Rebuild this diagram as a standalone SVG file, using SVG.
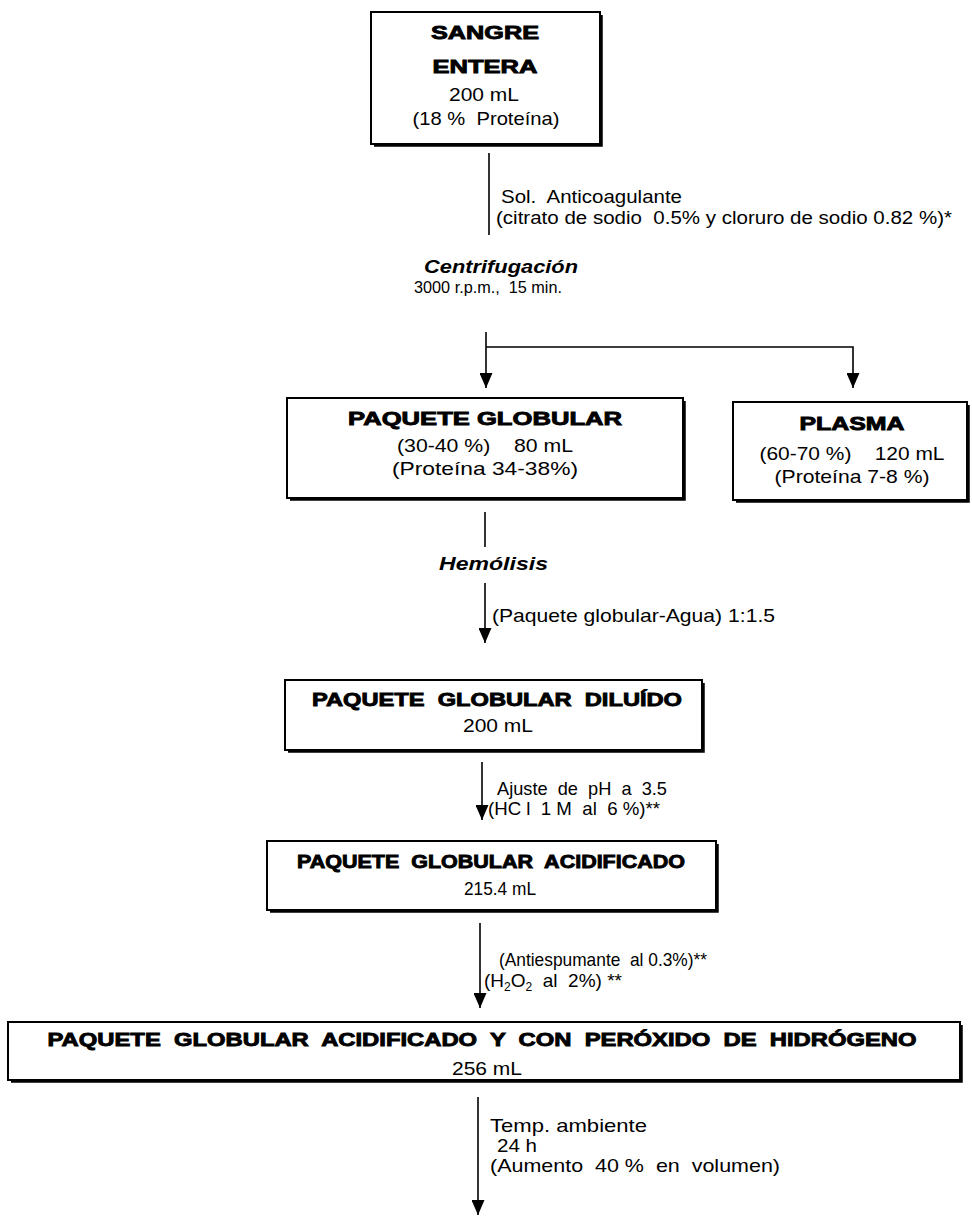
<svg xmlns="http://www.w3.org/2000/svg" width="972" height="1217" viewBox="0 0 972 1217">
<defs>
<style>
.bg{fill:#fff}
.box{fill:#fff;stroke:#000;stroke-width:2}
.sh{fill:none;stroke:#000;stroke-width:3.5}
.ln{fill:none;stroke:#000;stroke-width:1.6}
text{white-space:pre}
.t{font-family:"Liberation Sans",Arial,sans-serif;font-size:19px;fill:#000}
.m{font-family:"Liberation Sans",Arial,sans-serif;font-size:17.5px;fill:#000}
.s{font-family:"Liberation Sans",Arial,sans-serif;font-size:17px;fill:#000}
.c{text-anchor:middle}
.h{font-family:"Liberation Sans",Arial,sans-serif;font-weight:bold;font-size:19px;fill:#000;stroke:#000;stroke-width:0.9;text-anchor:middle}
.bi{font-family:"Liberation Sans",Arial,sans-serif;font-weight:bold;font-style:italic;font-size:19px;fill:#000}
</style>
<marker id="ah" markerUnits="userSpaceOnUse" markerWidth="15" markerHeight="13" viewBox="0 0 15 13" refX="15" refY="6.5" orient="auto">
<path d="M0,0 L15,6.5 L0,13 z" fill="#000"/>
</marker>
</defs>
<rect class="bg" x="0" y="0" width="972" height="1217"/>

<g id="connectors">
<line class="ln" x1="489" y1="153" x2="489" y2="235"/>
<line class="ln" x1="486" y1="332" x2="486" y2="388" marker-end="url(#ah)"/>
<polyline class="ln" points="486,347 853,347 853,388" marker-end="url(#ah)"/>
<line class="ln" x1="485" y1="512" x2="485" y2="547"/>
<line class="ln" x1="485" y1="583" x2="485" y2="643" marker-end="url(#ah)"/>
<line class="ln" x1="482" y1="762" x2="482" y2="820" marker-end="url(#ah)"/>
<line class="ln" x1="480" y1="923" x2="480" y2="1008" marker-end="url(#ah)"/>
<line class="ln" x1="478" y1="1097" x2="478" y2="1215" marker-end="url(#ah)"/>
<text class="m" x="501" y="203" textLength="181" lengthAdjust="spacingAndGlyphs">Sol.  Anticoagulante</text>
<text class="m" x="496" y="224" textLength="456" lengthAdjust="spacingAndGlyphs">(citrato de sodio  0.5% y cloruro de sodio 0.82 %)*</text>
<text class="bi" x="424" y="273" textLength="154" lengthAdjust="spacingAndGlyphs">Centrifugación</text>
<text class="s" x="414" y="293" textLength="148" lengthAdjust="spacingAndGlyphs">3000 r.p.m.,  15 min.</text>
<text class="bi" x="439" y="570" textLength="109" lengthAdjust="spacingAndGlyphs">Hemólisis</text>
<text class="t" x="492" y="622" textLength="283" lengthAdjust="spacingAndGlyphs">(Paquete globular-Agua) 1:1.5</text>
<text class="t" x="497" y="795" textLength="170" lengthAdjust="spacingAndGlyphs">Ajuste  de  pH  a  3.5</text>
<text class="t" x="488" y="815" textLength="172" lengthAdjust="spacingAndGlyphs">(HC l  1 M  al  6 %)**</text>
<text class="t" x="499" y="966" textLength="208" lengthAdjust="spacingAndGlyphs">(Antiespumante  al 0.3%)**</text>
<text class="t" x="484" y="987">(H<tspan font-size="12" dy="4">2</tspan><tspan dy="-4">O</tspan><tspan font-size="12" dy="4">2</tspan><tspan dy="-4">  al  2%) **</tspan></text>
<text class="t" x="490" y="1132" textLength="157" lengthAdjust="spacingAndGlyphs">Temp. ambiente</text>
<text class="t" x="497" y="1152" textLength="40" lengthAdjust="spacingAndGlyphs">24 h</text>
<text class="t" x="490" y="1172" textLength="290" lengthAdjust="spacingAndGlyphs">(Aumento  40 %  en  volumen)</text>
</g>

<g id="sangre">
<rect class="box" x="371" y="12" width="229" height="132"/>
<path class="sh" d="M374,145 H601 V15"/>
<text class="h" x="485" y="39" textLength="108" lengthAdjust="spacingAndGlyphs">SANGRE</text>
<text class="h" x="485" y="73" textLength="105" lengthAdjust="spacingAndGlyphs">ENTERA</text>
<text class="t c" x="484" y="101" textLength="70" lengthAdjust="spacingAndGlyphs">200 mL</text>
<text class="t c" x="486" y="125" textLength="147" lengthAdjust="spacingAndGlyphs">(18 %  Proteína)</text>
</g>

<g id="paquete-globular">
<rect class="box" x="287" y="398" width="396" height="100"/>
<path class="sh" d="M290,499 H684 V401"/>
<text class="h" x="485" y="425" textLength="274" lengthAdjust="spacingAndGlyphs">PAQUETE GLOBULAR</text>
<text class="t c" x="485" y="452" textLength="176" lengthAdjust="spacingAndGlyphs">(30-40 %)    80 mL</text>
<text class="t c" x="485" y="475" textLength="186" lengthAdjust="spacingAndGlyphs">(Proteína 34-38%)</text>
</g>

<g id="plasma">
<rect class="box" x="733" y="402" width="234" height="98"/>
<path class="sh" d="M736,501 H968 V405"/>
<text class="h" x="852" y="430" textLength="105" lengthAdjust="spacingAndGlyphs">PLASMA</text>
<text class="t c" x="852" y="460" textLength="185" lengthAdjust="spacingAndGlyphs">(60-70 %)    120 mL</text>
<text class="t c" x="852" y="483" textLength="155" lengthAdjust="spacingAndGlyphs">(Proteína 7-8 %)</text>
</g>

<g id="diluido">
<rect class="box" x="285" y="680" width="417" height="70"/>
<path class="sh" d="M288,751 H703 V683"/>
<text class="h" x="497" y="706" textLength="370" lengthAdjust="spacingAndGlyphs">PAQUETE  GLOBULAR  DILUÍDO</text>
<text class="t c" x="498" y="732" textLength="70" lengthAdjust="spacingAndGlyphs">200 mL</text>
</g>

<g id="acidificado">
<rect class="box" x="267" y="841" width="449" height="69"/>
<path class="sh" d="M270,911 H717 V844"/>
<text class="h" x="491" y="868" textLength="388" lengthAdjust="spacingAndGlyphs">PAQUETE  GLOBULAR  ACIDIFICADO</text>
<text class="t c" x="500" y="895" textLength="72" lengthAdjust="spacingAndGlyphs">215.4 mL</text>
</g>

<g id="peroxido">
<rect class="box" x="8" y="1022" width="952" height="58"/>
<path class="sh" d="M11,1081 H961 V1025"/>
<text class="h" x="482" y="1046" textLength="869" lengthAdjust="spacingAndGlyphs">PAQUETE  GLOBULAR  ACIDIFICADO  Y  CON  PERÓXIDO  DE  HIDRÓGENO</text>
<text class="t c" x="487" y="1075" textLength="70" lengthAdjust="spacingAndGlyphs">256 mL</text>
</g>
</svg>
